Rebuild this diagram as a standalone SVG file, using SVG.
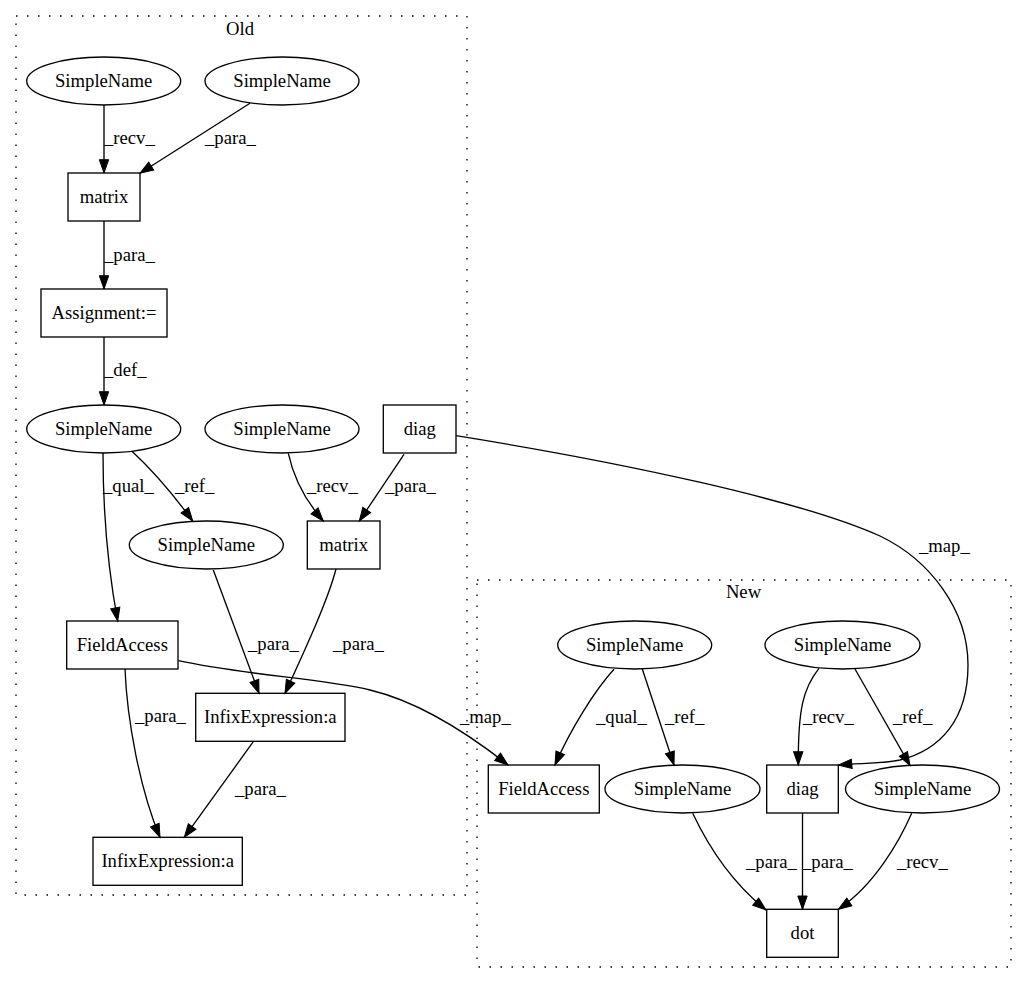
<svg xmlns="http://www.w3.org/2000/svg" width="1027" height="984" viewBox="0 0 1027 984">
<style>
.n{fill:none;stroke:#000;stroke-width:1.33}
.t{font-family:"Liberation Serif","Times New Roman",serif;font-size:18.67px;fill:#000;text-anchor:middle}
.l{font-family:"Liberation Serif","Times New Roman",serif;font-size:18.67px;fill:#000}
.c{fill:none;stroke:#000;stroke-width:1.33;stroke-dasharray:1.5,9.5}
.e{fill:none;stroke:#000;stroke-width:1.33;marker-end:url(#ah)}
</style>
<defs>
<marker id="ah" markerUnits="userSpaceOnUse" markerWidth="15" markerHeight="11" refX="13.3" refY="4.67" orient="auto" overflow="visible">
<path d="M0,0 L13.3,4.67 L0,9.33 Z" fill="#000" stroke="#000" stroke-width="1"/>
</marker>
</defs>
<rect x="0" y="0" width="1027" height="984" fill="#fff"/>
<g id="cluster_old">
<rect class="c" x="16" y="16" width="451" height="879"/>
<text class="t" x="240" y="35">Old</text>
</g>
<g id="cluster_new">
<rect class="c" x="477" y="580" width="534" height="387"/>
<text class="t" x="743.5" y="598">New</text>
</g>
<g id="edges">
<path class="e" d="M104,105 L104,173"/>
<path class="e" d="M250,103.3 L140,173.3"/>
<path class="e" d="M104,221 L104,289"/>
<path class="e" d="M104,337 L104,405"/>
<path class="e" d="M103,453 C103,520 110,580 117.7,621"/>
<path class="e" d="M131.7,451 C148,466 170,490 192.7,521"/>
<path class="e" d="M288.3,453.3 C293,475 305,500 323.3,521"/>
<path class="e" d="M404,454.3 L359.3,521"/>
<path class="e" d="M213.3,570 L259,693.3"/>
<path class="e" d="M336,569 C328,600 305,650 285,693.3"/>
<path class="e" d="M125,669 C127,720 140,790 160,837.3"/>
<path class="e" d="M253.3,741.7 L184.3,837.3"/>
<path class="e" d="M178.3,660.7 C250,676 320,678 370,690 C420,702 470,735 508,765"/>
<path class="e" d="M456,435.7 C620,462 800,500 880,536 C930,560 968,610 968,665 C968,720 940,750 900,760 C880,764 860,763 838.5,765"/>
<path class="e" d="M614,669.3 C595,690 570,730 555,765"/>
<path class="e" d="M642.3,669 L674,765"/>
<path class="e" d="M692.7,813.3 C710,850 735,885 766,910"/>
<path class="e" d="M819,668.3 C803,688 798,710 798.3,765"/>
<path class="e" d="M855,669 L910,765.5"/>
<path class="e" d="M802.5,813 L802.5,909.3"/>
<path class="e" d="M911.7,813.3 C900,840 875,885 838.3,909.3"/>
<text class="l" x="104" y="144">_recv_</text>
<text class="l" x="205" y="144">_para_</text>
<text class="l" x="104" y="261">_para_</text>
<text class="l" x="104" y="376">_def_</text>
<text class="l" x="103" y="492">_qual_</text>
<text class="l" x="175" y="492">_ref_</text>
<text class="l" x="307" y="492">_recv_</text>
<text class="l" x="385" y="492">_para_</text>
<text class="l" x="248" y="650">_para_</text>
<text class="l" x="333" y="650">_para_</text>
<text class="l" x="135" y="722">_para_</text>
<text class="l" x="235" y="795">_para_</text>
<text class="l" x="460" y="723">_map_</text>
<text class="l" x="919" y="552">_map_</text>
<text class="l" x="596" y="723">_qual_</text>
<text class="l" x="665" y="723">_ref_</text>
<text class="l" x="803" y="723">_recv_</text>
<text class="l" x="893" y="723">_ref_</text>
<text class="l" x="746" y="868">_para_</text>
<text class="l" x="802" y="868">_para_</text>
<text class="l" x="897" y="868">_recv_</text>
</g>
<g id="o_sn1"><ellipse class="n" cx="103.7" cy="81" rx="77" ry="24"/><text class="t" x="103.7" y="87">SimpleName</text></g>
<g id="o_sn2"><ellipse class="n" cx="282" cy="81" rx="77" ry="24"/><text class="t" x="282" y="87">SimpleName</text></g>
<g id="o_matrix1"><rect class="n" x="68" y="173" width="72" height="48"/><text class="t" x="104" y="203">matrix</text></g>
<g id="o_assign"><rect class="n" x="41" y="289" width="126" height="48"/><text class="t" x="104" y="319">Assignment:=</text></g>
<g id="o_sn3"><ellipse class="n" cx="103.7" cy="429" rx="77" ry="24"/><text class="t" x="103.7" y="435">SimpleName</text></g>
<g id="o_sn4"><ellipse class="n" cx="282" cy="429" rx="77" ry="24"/><text class="t" x="282" y="435">SimpleName</text></g>
<g id="o_diag"><rect class="n" x="383.3" y="405" width="72.7" height="48"/><text class="t" x="419.7" y="435">diag</text></g>
<g id="o_sn5"><ellipse class="n" cx="206.3" cy="545" rx="77" ry="24"/><text class="t" x="206.3" y="551">SimpleName</text></g>
<g id="o_matrix2"><rect class="n" x="307.3" y="521" width="72.7" height="48"/><text class="t" x="343.7" y="551">matrix</text></g>
<g id="o_fa"><rect class="n" x="66.7" y="621" width="111.3" height="48"/><text class="t" x="122.3" y="651">FieldAccess</text></g>
<g id="o_infix1"><rect class="n" x="195.7" y="693.3" width="149.3" height="48"/><text class="t" x="270.3" y="723.3">InfixExpression:a</text></g>
<g id="o_infix2"><rect class="n" x="93" y="837.3" width="149.3" height="48"/><text class="t" x="167.7" y="867.3">InfixExpression:a</text></g>
<g id="n_sn1"><ellipse class="n" cx="634.7" cy="645" rx="77" ry="24"/><text class="t" x="634.7" y="651">SimpleName</text></g>
<g id="n_sn3"><ellipse class="n" cx="842.5" cy="645" rx="77.5" ry="24"/><text class="t" x="842.5" y="651">SimpleName</text></g>
<g id="n_fa"><rect class="n" x="488.3" y="765" width="111" height="48"/><text class="t" x="543.8" y="795">FieldAccess</text></g>
<g id="n_sn2"><ellipse class="n" cx="682.5" cy="789" rx="77.5" ry="24"/><text class="t" x="682.5" y="795">SimpleName</text></g>
<g id="n_diag"><rect class="n" x="766.7" y="765" width="71.6" height="48"/><text class="t" x="802.5" y="795">diag</text></g>
<g id="n_sn4"><ellipse class="n" cx="922.5" cy="789" rx="77" ry="24"/><text class="t" x="922.5" y="795">SimpleName</text></g>
<g id="n_dot"><rect class="n" x="766.7" y="909.3" width="71.6" height="48"/><text class="t" x="802.5" y="939.3">dot</text></g>
</svg>
